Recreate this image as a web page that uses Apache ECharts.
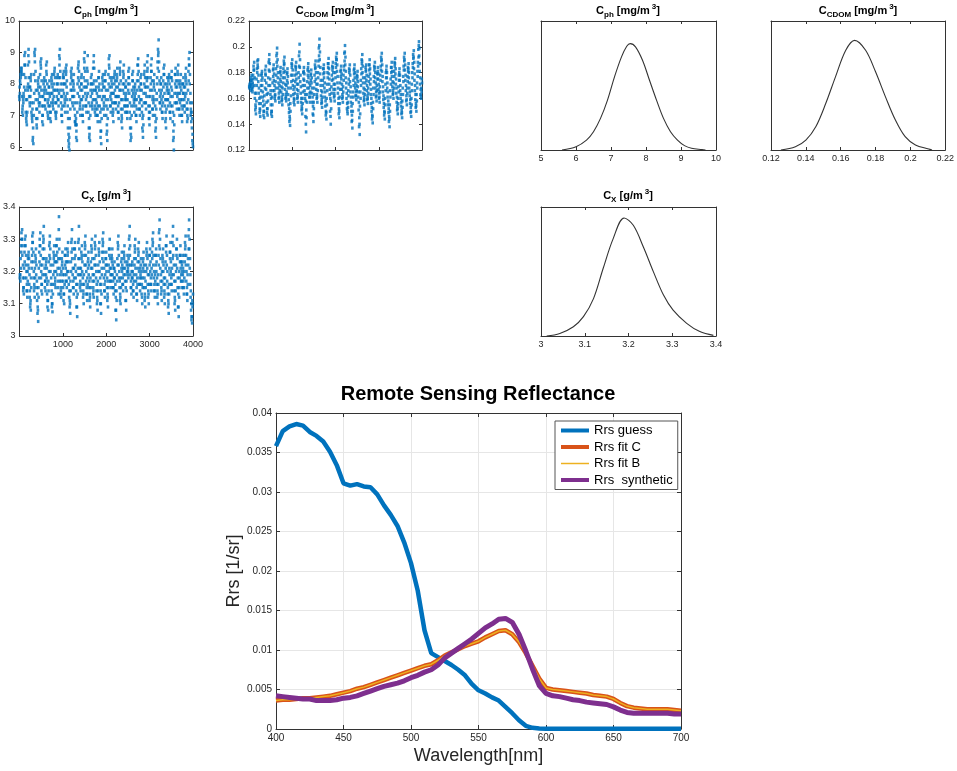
<!DOCTYPE html>
<html><head><meta charset="utf-8">
<script src="https://cdn.jsdelivr.net/npm/echarts@6/dist/echarts.min.js"></script>
<style>html,body{margin:0;padding:0;background:#fff}#c{width:957px;height:771px}</style>
</head><body><div id="c"></div>
<script>
// ---------- DATA ----------
// MCMC chains: chain A at iterations 10,20,...; chain B at 5,15,...
const sampleStep = 10;
const cphChain = [
7.5,7.7,8.0,8.2,8.4,8.5,8.3,7.2,7.0,7.4, 7.6,7.9,8.6,9.0,8.2,7.5,6.8,6.7,7.1,7.8,
8.0,9.1,8.7,7.9,7.3,7.6,8.1,8.3,7.4,6.9, 7.2,6.3,6.1,7.0,7.7,8.9,9.1,8.4,7.8,7.2,
6.6,6.9,7.5,8.0,8.2,7.7,7.1,7.4,7.9,8.6, 8.8,8.1,7.6,7.0,6.7,7.3,7.8,8.2,7.9,7.5,
7.2,7.8,8.4,8.7,8.0,7.4,6.9,7.3,7.7,8.1, 7.6,7.1,6.8,7.4,8.0,8.3,7.9,7.5,7.2,7.6,
8.0,8.5,8.2,7.4,6.9,7.1,7.6,8.0,8.3,7.8, 7.3,7.7,8.6,9.1,8.4,8.0,7.6,7.2,6.8,7.3,
7.8,8.2,8.4,8.0,7.5,7.1,7.6,8.3,8.6,8.1, 7.7,7.3,6.9,6.4,6.1,5.9,6.6,7.2,7.8,8.2,
8.5,8.1,7.6,7.3,7.9,8.3,7.8,7.4,7.0,6.7, 6.9,6.5,6.2,7.1,7.7,8.2,8.7,8.4,7.9,7.4,
7.0,7.5,8.0,8.3,7.8,7.2,6.8,7.3,7.9,8.5, 9.0,8.4,7.9,7.5,7.1,7.6,8.1,8.9,8.0,7.4,
6.9,6.4,6.2,7.0,7.6,8.0,8.3,7.7,7.2,7.5, 8.0,8.9,8.5,7.8,7.3,7.0,7.5,8.1,7.7,7.2,
6.8,7.3,7.9,8.4,8.0,7.6,7.1,6.5,6.1,6.9, 7.5,8.0,8.3,7.9,7.4,7.0,7.6,8.1,8.4,7.8,
7.3,6.7,6.2,6.9,7.5,8.0,8.6,8.9,8.2,7.6, 7.1,7.5,7.9,8.2,7.7,7.2,6.8,7.4,8.0,8.4,
8.1,7.6,7.2,7.6,8.1,8.5,7.9,7.3,6.9,7.4, 7.8,8.3,8.7,8.1,7.5,7.0,6.6,7.2,7.8,8.2,
8.6,8.0,7.5,7.1,7.6,8.1,7.7,7.3,6.9,7.3, 7.8,8.2,8.5,8.0,7.4,6.9,6.4,6.3,7.0,7.6,
8.1,8.4,7.9,7.5,7.1,7.6,8.0,7.7,7.3,6.8, 7.2,7.8,8.3,8.8,8.4,7.9,7.4,7.0,7.5,8.0,
8.3,7.8,7.3,6.9,6.3,6.7,7.4,8.0,8.6,8.2, 7.7,7.2,7.6,8.1,8.4,8.9,8.2,7.6,7.1,6.7,
7.1,7.6,8.0,8.4,8.8,8.1,7.5,7.0,7.4,7.9, 8.3,7.8,7.3,6.8,6.3,6.9,7.5,8.0,8.5,8.9,
9.4,8.7,8.1,7.6,7.2,7.7,8.2,7.8,7.3,6.9, 7.4,7.9,8.3,8.6,8.0,7.5,7.1,6.6,7.2,7.8,
8.2,7.7,7.3,7.8,8.3,8.0,7.4,6.9,7.3,7.9, 8.4,8.1,7.6,7.1,6.5,5.9,6.7,7.4,8.0,8.5,
8.1,7.7,7.2,7.6,8.1,8.6,8.0,7.5,7.0,7.4, 7.9,8.3,7.8,7.3,6.8,7.2,7.7,8.2,7.9,7.5,
7.1,7.6,8.1,8.5,8.0,7.4,7.0,6.9,7.5,8.1, 8.6,9.0,8.3,7.7,7.2,6.8,7.4,6.9,6.4,6.0
];
const cphChainB = [
7.6,7.9,8.1,8.3,8.5,8.4,7.6,7.1,7.3,7.5, 7.7,8.3,8.9,8.6,7.8,7.1,6.9,7.0,7.5,7.9,
8.6,8.9,8.2,7.6,7.4,7.9,8.2,7.8,7.1,7.0, 6.8,6.2,6.6,7.4,8.3,9.0,8.7,8.1,7.5,6.9,
6.7,7.2,7.8,8.1,7.9,7.4,7.3,7.6,8.3,8.7, 8.5,7.8,7.3,6.8,7.0,7.6,8.0,8.1,7.7,7.3,
7.5,8.1,8.6,8.3,7.7,7.1,7.0,7.5,7.9,7.9, 7.3,6.9,7.1,7.7,8.2,8.1,7.7,7.3,7.4,7.8,
8.3,8.4,7.8,7.1,7.0,7.4,7.8,8.2,8.0,7.5, 7.5,8.2,8.9,8.8,8.2,7.8,7.4,7.0,7.0,7.6,
8.0,8.3,8.2,7.7,7.3,7.4,8.0,8.5,8.4,7.9, 7.5,7.1,6.6,6.2,6.0,6.3,6.9,7.5,8.0,8.4,
8.3,7.8,7.4,7.6,8.1,8.0,7.6,7.2,6.8,6.8, 6.7,6.3,6.7,7.4,8.0,8.5,8.6,8.1,7.6,7.2,
7.3,7.8,8.2,8.0,7.5,7.0,7.0,7.6,8.2,8.8, 8.7,8.1,7.7,7.3,7.3,7.9,8.5,8.4,7.7,7.1,
6.6,6.3,6.6,7.3,7.8,8.2,8.0,7.4,7.3,7.8, 8.5,8.7,8.1,7.5,7.1,7.2,7.8,7.9,7.4,7.0,
7.0,7.6,8.2,8.2,7.8,7.3,6.8,6.3,6.5,7.2, 7.8,8.2,8.1,7.6,7.2,7.3,7.9,8.3,8.1,7.5,
7.0,6.4,6.5,7.2,7.8,8.3,8.8,8.5,7.9,7.3, 7.3,7.7,8.1,8.0,7.4,7.0,7.1,7.7,8.2,8.3,
7.8,7.4,7.4,7.9,8.3,8.2,7.6,7.1,7.1,7.6, 8.0,8.5,8.4,7.8,7.2,6.8,6.9,7.5,8.0,8.4,
8.3,7.7,7.3,7.3,7.9,7.9,7.5,7.1,7.1,7.5, 8.0,8.4,8.2,7.7,7.1,6.6,6.2,6.6,7.3,7.8,
8.3,8.1,7.7,7.3,7.4,7.8,7.9,7.5,7.0,7.0, 7.5,8.1,8.6,8.6,8.1,7.6,7.2,7.2,7.8,8.2,
8.0,7.5,7.1,6.6,6.5,7.0,7.7,8.3,8.4,7.9, 7.4,7.4,7.9,8.2,8.7,8.5,7.9,7.3,6.9,6.9,
7.3,7.8,8.2,8.6,8.4,7.8,7.2,7.2,7.6,8.1, 8.0,7.5,7.0,6.5,6.6,7.2,7.7,8.2,8.7,9.1,
9.0,8.4,7.8,7.4,7.4,8.0,8.0,7.5,7.1,7.1, 7.6,8.1,8.5,8.3,7.7,7.3,6.8,6.9,7.5,8.0,
7.9,7.5,7.5,8.1,8.2,7.7,7.1,7.1,7.6,8.2, 8.2,7.8,7.3,6.8,6.2,6.3,7.0,7.7,8.3,8.3,
7.9,7.4,7.4,7.9,8.4,8.3,7.7,7.2,7.2,7.7, 8.1,8.0,7.5,7.0,7.0,7.5,8.0,8.0,7.7,7.3,
7.3,7.9,8.3,8.2,7.7,7.2,6.8,7.2,7.8,8.4, 8.8,8.6,8.0,7.4,7.0,7.1,7.1,6.6,6.2,6.1
];
const cdomChain = [
.168,.170,.172,.166,.174,.178,.171,.165,.169,.175, .182,.188,.176,.164,.155,.148,.158,.170,.180,.186,
.190,.178,.168,.160,.152,.146,.156,.166,.174,.181, .176,.165,.158,.150,.145,.155,.168,.179,.185,.172,
.163,.152,.147,.158,.170,.182,.194,.187,.175,.166, .160,.150,.146,.155,.166,.177,.186,.179,.170,.162,
.158,.168,.178,.188,.199,.190,.180,.172,.164,.157, .166,.175,.184,.178,.169,.161,.155,.163,.172,.180,
.186,.192,.181,.171,.163,.158,.165,.174,.183,.177, .168,.159,.152,.146,.139,.150,.162,.173,.184,.190,
.182,.174,.167,.160,.155,.164,.173,.182,.188,.179, .171,.163,.157,.166,.176,.185,.202,.190,.178,.169,
.160,.154,.148,.156,.165,.175,.184,.179,.170,.163, .158,.134,.145,.157,.168,.178,.187,.181,.172,.164,
.157,.165,.174,.182,.176,.168,.161,.154,.142,.152, .163,.173,.183,.189,.180,.171,.163,.157,.166,.176,
.185,.193,.206,.196,.184,.174,.166,.159,.153,.161, .170,.179,.186,.180,.172,.165,.158,.150,.144,.155,
.166,.176,.184,.191,.183,.175,.167,.160,.140,.152, .164,.174,.182,.188,.180,.171,.164,.158,.167,.176,
.184,.190,.195,.186,.177,.168,.160,.152,.145,.156, .167,.177,.185,.179,.171,.163,.157,.165,.174,.182,
.189,.201,.192,.181,.172,.164,.156,.148,.153,.162, .171,.180,.186,.178,.169,.161,.154,.147,.137,.150,
.161,.170,.179,.186,.180,.172,.165,.159,.166,.175, .181,.173,.165,.157,.145,.132,.148,.160,.170,.179,
.187,.194,.185,.176,.168,.161,.155,.163,.172,.181, .186,.178,.170,.162,.156,.164,.173,.182,.190,.183,
.175,.167,.160,.153,.147,.141,.152,.163,.173,.182, .188,.180,.172,.165,.158,.166,.175,.184,.179,.171,
.164,.157,.165,.174,.182,.189,.195,.186,.177,.169, .162,.156,.150,.144,.155,.166,.176,.185,.180,.172,
.165,.158,.152,.146,.138,.150,.161,.171,.180,.188, .181,.173,.166,.160,.168,.177,.185,.191,.183,.175,
.168,.161,.154,.148,.156,.165,.174,.183,.178,.170, .163,.157,.151,.145,.153,.163,.173,.182,.189,.195,
.186,.178,.170,.162,.155,.164,.173,.181,.187,.180, .172,.165,.159,.153,.146,.155,.166,.176,.184,.191,
.197,.188,.179,.170,.163,.156,.150,.158,.168,.177, .185,.192,.204,.199,.187,.176,.167,.160,.165,.172
];
const cdomChainB = [
.169,.171,.169,.170,.176,.174,.168,.167,.172,.178, .185,.182,.170,.160,.151,.153,.164,.175,.183,.189,
.184,.173,.164,.156,.149,.151,.161,.170,.178,.179, .170,.161,.154,.147,.150,.162,.174,.182,.178,.167,
.157,.149,.152,.164,.176,.188,.190,.181,.170,.163, .155,.148,.150,.161,.172,.182,.183,.174,.166,.160,
.163,.173,.183,.193,.195,.185,.176,.168,.160,.161, .170,.180,.181,.173,.165,.158,.159,.168,.176,.183,
.189,.187,.176,.167,.160,.161,.170,.179,.180,.172, .163,.155,.149,.142,.144,.156,.168,.178,.187,.186,
.178,.170,.163,.157,.159,.169,.178,.185,.184,.175, .167,.160,.161,.171,.180,.193,.196,.184,.173,.164,
.157,.151,.152,.160,.170,.180,.181,.174,.166,.160, .146,.140,.151,.163,.173,.182,.184,.176,.168,.161,
.161,.170,.178,.179,.172,.164,.157,.148,.147,.157, .168,.178,.186,.184,.175,.167,.160,.161,.171,.180,
.189,.199,.201,.190,.179,.170,.162,.156,.157,.165, .174,.183,.183,.176,.168,.161,.154,.147,.149,.160,
.171,.180,.187,.187,.179,.171,.163,.150,.146,.158, .169,.178,.185,.184,.175,.167,.161,.162,.171,.180,
.187,.192,.190,.181,.172,.164,.156,.148,.150,.161, .172,.181,.182,.175,.167,.160,.161,.169,.178,.185,
.195,.196,.186,.176,.168,.160,.152,.150,.157,.166, .175,.183,.182,.173,.165,.157,.150,.142,.143,.156,
.165,.174,.182,.183,.176,.168,.162,.162,.170,.178, .177,.169,.161,.151,.138,.140,.154,.165,.174,.183,
.190,.189,.180,.172,.164,.158,.159,.167,.176,.184, .182,.174,.166,.159,.160,.168,.177,.186,.186,.179,
.171,.163,.156,.150,.144,.146,.157,.168,.177,.185, .184,.176,.168,.161,.162,.170,.179,.181,.175,.167,
.160,.161,.169,.178,.185,.192,.190,.181,.173,.165, .159,.153,.147,.149,.160,.171,.180,.182,.176,.168,
.161,.155,.149,.142,.144,.155,.166,.175,.184,.184, .177,.169,.163,.164,.172,.181,.188,.187,.179,.171,
.164,.157,.151,.152,.160,.169,.178,.180,.174,.166, .160,.154,.148,.149,.158,.168,.177,.185,.192,.190,
.182,.174,.166,.158,.159,.168,.177,.184,.183,.176, .168,.162,.156,.149,.150,.160,.171,.180,.187,.194,
.192,.183,.174,.166,.159,.153,.154,.163,.172,.181, .188,.198,.201,.193,.181,.171,.163,.162,.168,.175
];
const cxChain = [
3.19,3.17,3.21,3.26,3.30,3.33,3.28,3.22,3.15,3.13, 3.18,3.23,3.28,3.31,3.25,3.20,3.16,3.12,3.17,3.22,
3.26,3.24,3.19,3.14,3.10,3.08,3.15,3.21,3.25,3.29, 3.32,3.26,3.20,3.16,3.12,3.18,3.23,3.27,3.22,3.17,
3.13,3.09,3.045,3.12,3.18,3.23,3.28,3.32,3.25,3.20, 3.16,3.13,3.19,3.24,3.29,3.34,3.27,3.21,3.17,3.14,
3.19,3.24,3.21,3.16,3.11,3.08,3.14,3.20,3.25,3.31, 3.27,3.22,3.18,3.14,3.10,3.075,3.13,3.19,3.24,3.28,
3.23,3.18,3.15,3.20,3.25,3.30,3.26,3.21,3.17,3.13, 3.37,3.30,3.24,3.19,3.15,3.12,3.17,3.22,3.26,3.21,
3.17,3.13,3.10,3.16,3.22,3.27,3.23,3.19,3.15,3.20, 3.25,3.29,3.23,3.18,3.14,3.11,3.07,3.14,3.20,3.26,
3.33,3.27,3.21,3.17,3.13,3.18,3.24,3.29,3.25,3.20, 3.16,3.12,3.06,3.13,3.19,3.24,3.34,3.27,3.21,3.17,
3.14,3.19,3.24,3.28,3.23,3.18,3.14,3.10,3.16,3.22, 3.27,3.31,3.25,3.20,3.15,3.11,3.16,3.21,3.26,3.22,
3.17,3.13,3.09,3.15,3.21,3.26,3.30,3.24,3.19,3.15, 3.12,3.17,3.22,3.27,3.31,3.25,3.20,3.16,3.12,3.08,
3.14,3.20,3.25,3.29,3.23,3.18,3.14,3.07,3.13,3.19, 3.24,3.28,3.32,3.26,3.21,3.16,3.12,3.17,3.22,3.26,
3.22,3.18,3.13,3.09,3.15,3.20,3.25,3.30,3.24,3.19, 3.15,3.19,3.23,3.27,3.22,3.17,3.13,3.18,3.23,3.20,
3.16,3.12,3.05,3.11,3.17,3.22,3.27,3.31,3.25,3.20, 3.17,3.13,3.10,3.15,3.21,3.26,3.22,3.18,3.14,3.19,
3.24,3.28,3.23,3.19,3.15,3.08,3.14,3.20,3.25,3.21, 3.18,3.22,3.27,3.34,3.28,3.22,3.17,3.13,3.18,3.23,
3.20,3.16,3.12,3.17,3.22,3.26,3.30,3.24,3.19,3.15, 3.11,3.16,3.21,3.25,3.29,3.23,3.18,3.14,3.19,3.24,
3.20,3.16,3.10,3.15,3.21,3.26,3.22,3.18,3.13,3.09, 3.15,3.20,3.25,3.29,3.24,3.19,3.14,3.10,3.16,3.22,
3.27,3.23,3.18,3.14,3.19,3.24,3.28,3.32,3.25,3.20, 3.16,3.12,3.17,3.22,3.27,3.23,3.18,3.14,3.10,3.16,
3.22,3.28,3.36,3.30,3.24,3.19,3.15,3.11,3.17,3.23, 3.27,3.22,3.18,3.14,3.10,3.16,3.21,3.26,3.31,3.25,
3.20,3.15,3.11,3.07,3.13,3.19,3.24,3.29,3.23,3.18, 3.14,3.19,3.24,3.34,3.28,3.22,3.17,3.12,3.08,3.14,
3.20,3.25,3.30,3.24,3.18,3.13,3.06,3.12,3.18,3.23, 3.28,3.23,3.19,3.15,3.20,3.25,3.21,3.17,3.13,3.18,
3.23,3.27,3.31,3.25,3.20,3.15,3.11,3.16,3.22,3.27, 3.36,3.30,3.24,3.19,3.14,3.10,3.06,3.04,3.09,3.13
];
const cxChainB = [
3.18,3.19,3.24,3.28,3.32,3.30,3.25,3.18,3.14,3.15, 3.21,3.26,3.30,3.28,3.22,3.18,3.14,3.14,3.20,3.24,
3.25,3.21,3.16,3.12,3.09,3.11,3.18,3.23,3.27,3.31, 3.29,3.23,3.18,3.14,3.15,3.21,3.25,3.24,3.19,3.15,
3.11,3.07,3.08,3.15,3.21,3.26,3.30,3.28,3.22,3.18, 3.14,3.16,3.22,3.27,3.31,3.30,3.24,3.19,3.15,3.17,
3.22,3.23,3.18,3.13,3.09,3.11,3.17,3.23,3.28,3.29, 3.24,3.20,3.16,3.12,3.09,3.10,3.16,3.22,3.26,3.25,
3.20,3.16,3.17,3.23,3.28,3.28,3.23,3.19,3.15,3.24, 3.33,3.27,3.21,3.17,3.13,3.14,3.20,3.24,3.23,3.19,
3.15,3.11,3.13,3.19,3.25,3.25,3.21,3.17,3.17,3.23, 3.27,3.26,3.20,3.16,3.12,3.09,3.10,3.17,3.23,3.29,
3.30,3.24,3.19,3.15,3.15,3.21,3.27,3.27,3.22,3.18, 3.14,3.09,3.09,3.16,3.21,3.29,3.30,3.24,3.19,3.15,
3.16,3.21,3.26,3.25,3.20,3.16,3.12,3.13,3.19,3.25, 3.29,3.28,3.22,3.17,3.13,3.13,3.18,3.23,3.24,3.19,
3.15,3.11,3.12,3.18,3.23,3.28,3.27,3.21,3.17,3.13, 3.14,3.19,3.24,3.29,3.28,3.22,3.18,3.14,3.10,3.11,
3.17,3.22,3.27,3.26,3.20,3.16,3.10,3.10,3.16,3.21, 3.26,3.30,3.29,3.23,3.18,3.14,3.14,3.19,3.24,3.24,
3.20,3.15,3.11,3.12,3.17,3.22,3.27,3.27,3.21,3.17, 3.17,3.21,3.25,3.24,3.19,3.15,3.15,3.21,3.21,3.18,
3.14,3.08,3.08,3.14,3.19,3.24,3.29,3.28,3.22,3.18, 3.15,3.11,3.12,3.18,3.23,3.24,3.20,3.16,3.16,3.21,
3.26,3.25,3.21,3.17,3.11,3.11,3.17,3.22,3.23,3.19, 3.20,3.24,3.30,3.31,3.25,3.19,3.15,3.15,3.20,3.22,
3.18,3.14,3.14,3.19,3.24,3.28,3.27,3.21,3.17,3.13, 3.13,3.18,3.23,3.27,3.26,3.20,3.16,3.16,3.21,3.22,
3.18,3.13,3.12,3.18,3.23,3.24,3.20,3.15,3.11,3.12, 3.17,3.22,3.27,3.26,3.21,3.16,3.12,3.13,3.19,3.25,
3.25,3.20,3.16,3.16,3.21,3.26,3.30,3.29,3.22,3.18, 3.14,3.14,3.19,3.25,3.25,3.20,3.16,3.12,3.13,3.19,
3.25,3.32,3.33,3.27,3.21,3.17,3.13,3.14,3.20,3.25, 3.24,3.20,3.16,3.12,3.13,3.18,3.23,3.28,3.28,3.22,
3.17,3.13,3.09,3.10,3.16,3.21,3.26,3.26,3.20,3.16, 3.16,3.21,3.29,3.31,3.25,3.19,3.14,3.10,3.11,3.17,
3.22,3.27,3.27,3.21,3.15,3.09,3.09,3.15,3.20,3.25, 3.25,3.21,3.17,3.17,3.22,3.23,3.19,3.15,3.15,3.20,
3.25,3.29,3.28,3.22,3.17,3.13,3.13,3.19,3.24,3.31, 3.33,3.27,3.21,3.16,3.12,3.08,3.05,3.06,3.11,3.10
];

// Posterior density curves (relative height)
const cphDensX = [5.6,6.0,6.3,6.5,6.7,6.9,7.1,7.3,7.45,7.55,7.7,7.9,8.1,8.3,8.5,8.7,8.9,9.1,9.3,9.6,9.7];
const cphDensY = [0,0.026,0.077,0.142,0.245,0.387,0.567,0.722,0.804,0.825,0.80,0.696,0.541,0.387,0.245,0.142,0.077,0.034,0.013,0.003,0];
const cdomDensX = [0.1257,0.134,0.140,0.1457,0.1514,0.157,0.1629,0.168,0.1743,0.180,0.1857,0.1914,0.197,0.2029,0.2105,0.2124];
const cdomDensY = [0,0.026,0.077,0.18,0.36,0.567,0.773,0.85,0.773,0.606,0.412,0.232,0.103,0.039,0.008,0];
const cxDensX = [3.013,3.043,3.074,3.097,3.12,3.142,3.165,3.19,3.211,3.234,3.257,3.28,3.302,3.333,3.363,3.394];
const cxDensY = [0,0.02,0.072,0.15,0.29,0.523,0.755,0.915,0.858,0.69,0.497,0.317,0.2,0.098,0.034,0.005];

// Remote sensing reflectance spectra
const wavelength = [400,405,410,415,420,425,430,435,440,445,450,455,460,465,470,475,480,485,490,495,
500,505,510,515,520,525,530,535,540,545,550,555,560,565,570,575,580,585,590,595,
600,605,610,615,620,625,630,635,640,645,650,655,660,665,670,675,680,685,690,695,700];
const rrsGuess = [.0358,.0377,.0383,.0386,.0384,.0376,.0371,.0364,.0351,.0334,.0311,.0308,.0310,.0307,.0306,.0297,.0283,.0271,.0257,.0236,
.0210,.0175,.0125,.0096,.0091,.0086,.0081,.0075,.0068,.0057,.0049,.0045,.0040,.0036,.0028,.0020,.0011,.0004,.00015,.00006,
.00003,.00003,.00003,.00003,.00003,.00003,.00003,.00003,.00003,.00003,.00003,.00003,.00003,.00003,.00003,.00003,.00003,.00003,.00003,.00003,.00003];
const rrsFitC = [.0036,.0037,.0037,.0038,.0039,.0039,.0040,.0041,.0042,.0044,.0046,.0048,.0051,.0053,.0056,.0059,.0062,.0065,.0068,.0071,
.0074,.0077,.0080,.0082,.0087,.0093,.0097,.0101,.0105,.0108,.0111,.0116,.0120,.0124,.0125,.0120,.0110,.0096,.0080,.0064,
.0052,.0050,.0049,.0048,.0047,.0046,.0045,.0043,.0042,.0041,.0038,.0033,.0029,.0027,.0026,.0025,.0025,.0025,.0025,.0024,.0023];
const rrsFitB = [.0036,.0037,.0037,.0038,.0039,.0039,.0040,.0041,.0042,.0044,.0046,.0048,.0051,.0053,.0056,.0059,.0062,.0065,.0068,.0071,
.0074,.0077,.0080,.0082,.0087,.0093,.0097,.0101,.0105,.0108,.0111,.0116,.0120,.0124,.0125,.0120,.0110,.0096,.0080,.0064,
.0052,.0050,.0049,.0048,.0047,.0046,.0045,.0043,.0042,.0041,.0038,.0033,.0029,.0027,.0026,.0025,.0025,.0025,.0025,.0024,.0023];
const rrsSynthetic = [.0042,.0041,.0040,.0039,.0038,.0038,.0036,.0036,.0036,.0037,.0039,.0040,.0042,.0045,.0048,.0051,.0054,.0056,.0058,.0061,
.0065,.0068,.0072,.0075,.0081,.0090,.0096,.0102,.0108,.0114,.0121,.0128,.0133,.0139,.0140,.0135,.0120,.0099,.0076,.0055,
.0045,.0042,.0041,.0039,.0037,.0036,.0034,.0033,.0032,.0031,.0028,.0024,.0021,.0020,.0020,.0020,.0020,.0020,.0020,.0019,.0019];

const panelTitles = ['C{sub|ph} [mg/m{sup|3}]','C{sub|CDOM} [mg/m{sup|3}]','C{sub|X} [g/m{sup|3}]'];
const seriesNames = ['Rrs guess','Rrs fit C','Rrs fit B','Rrs  synthetic'];

// ---------- CHART ----------
const FONT = '"Liberation Sans", Arial, Helvetica, sans-serif';
const AXC = '#262626';
const grids = [
  {left:19,  top:21,  width:174, height:129},
  {left:249, top:21,  width:173, height:129},
  {left:541, top:21,  width:175, height:129},
  {left:771, top:21,  width:175, height:129},
  {left:19,  top:207, width:174, height:129},
  {left:541, top:207, width:175, height:129},
  {left:276, top:413, width:405, height:316}
];
const xAxes = [], yAxes = [];
function axisPair(list, gi, isX, cfg) {
  const positions = isX ? ['bottom','top'] : ['left','right'];
  positions.forEach((pos, k) => {
    const a = {
      gridIndex: gi, type: 'value', position: pos, min: cfg.min, max: cfg.max,
      axisLine: {show: true, onZero: false, lineStyle: {color: '#333', width: 1}},
      axisTick: {show: cfg.ticks !== false, inside: true, length: cfg.tickLen || 3, lineStyle: {color: '#333', width: 1}},
      axisLabel: {show: k === 0 && !!cfg.labels, color: AXC, fontSize: cfg.fontSize || 9, fontFamily: FONT, margin: cfg.margin || 4,
        formatter: v => String(+v.toFixed(6))},
      splitLine: {show: k === 0 && !!cfg.grid, lineStyle: {color: '#e6e6e6', width: 1}}
    };
    if (cfg.interval !== undefined) a.interval = cfg.interval;
    if (cfg.custom) { a.axisTick.customValues = cfg.custom; a.axisLabel.customValues = cfg.custom; }
    if (k === 0 && cfg.name) Object.assign(a, cfg.name);
    list.push(a);
  });
}
const iterTicks = [1000,2000,3000,4000];
axisPair(xAxes, 0, true, {min:0, max:4000, custom:iterTicks, labels:false});
axisPair(yAxes, 0, false, {min:5.9, max:10, custom:[6,7,8,9,10], labels:true});
axisPair(xAxes, 1, true, {min:0, max:4000, custom:iterTicks, labels:false});
axisPair(yAxes, 1, false, {min:0.12, max:0.22, interval:0.02, labels:true});
axisPair(xAxes, 2, true, {min:5, max:10, interval:1, labels:true});
axisPair(yAxes, 2, false, {min:0, max:1, ticks:false, labels:false});
axisPair(xAxes, 3, true, {min:0.12, max:0.22, interval:0.02, labels:true});
axisPair(yAxes, 3, false, {min:0, max:1, ticks:false, labels:false});
axisPair(xAxes, 4, true, {min:0, max:4000, custom:iterTicks, labels:true});
axisPair(yAxes, 4, false, {min:3, max:3.4, interval:0.1, labels:true});
axisPair(xAxes, 5, true, {min:3, max:3.4, interval:0.1, labels:true});
axisPair(yAxes, 5, false, {min:0, max:1, ticks:false, labels:false});
axisPair(xAxes, 6, true, {min:400, max:700, interval:50, labels:true, grid:true, fontSize:10, tickLen:4,
  name:{name:'Wavelength[nm]', nameLocation:'middle', nameGap:18, nameTextStyle:{fontSize:18, color:AXC, fontFamily:FONT}}});
axisPair(yAxes, 6, false, {min:0, max:0.04, interval:0.005, labels:true, grid:true, fontSize:10, tickLen:4,
  name:{name:'Rrs [1/sr]', nameLocation:'middle', nameGap:33, nameTextStyle:{fontSize:18, color:AXC, fontFamily:FONT}}});

function chainPoints(arr, offset) { return arr.map((v, i) => [i * sampleStep + offset, v]); }
function zipXY(xs, ys) { return xs.map((x, i) => [x, ys[i]]); }
function traceSeries(gi, arrA, arrB) {
  return {type:'scatter', xAxisIndex:2*gi, yAxisIndex:2*gi,
    data:chainPoints(arrB, sampleStep/2).concat(chainPoints(arrA, sampleStep)), symbol:'rect', symbolSize:[2.6, 3.2],
    itemStyle:{color:'#0072BD'}, silent:true};
}
function densSeries(gi, xs, ys) {
  return {type:'line', xAxisIndex:2*gi, yAxisIndex:2*gi, data:zipXY(xs, ys), smooth:0.35, showSymbol:false, symbol:'none',
    lineStyle:{color:'#333', width:1.1}, silent:true};
}
function rrsSeries(name, ys, color, width) {
  return {type:'line', name, xAxisIndex:12, yAxisIndex:12, data:zipXY(wavelength, ys), symbol:'none', showSymbol:false,
    lineStyle:{color, width}, itemStyle:{color}, silent:true};
}

const titleStyle = {
  fontSize: 11, fontWeight: 'bold', color: '#000', fontFamily: FONT, lineHeight: 16,
  rich: {
    sub: {fontSize: 8, fontWeight: 'bold', fontFamily: FONT, color:'#000', lineHeight: 8, verticalAlign: 'bottom'},
    sup: {fontSize: 8, fontWeight: 'bold', fontFamily: FONT, color:'#000', lineHeight: 8, verticalAlign: 'top', padding:[0,0,0,2]}
  }
};
function panelTitle(text, cx, top) {
  return {text, left: cx, top, textAlign: 'center', padding: 0, textStyle: titleStyle};
}
const legendWidths = [4, 4, 1.5, 4];

const option = {
  animation: false,
  backgroundColor: '#fff',
  grid: grids,
  xAxis: xAxes,
  yAxis: yAxes,
  title: [
    panelTitle(panelTitles[0], 106, 3),
    panelTitle(panelTitles[1], 335, 3),
    panelTitle(panelTitles[0], 628, 3),
    panelTitle(panelTitles[1], 858, 3),
    panelTitle(panelTitles[2], 106, 188),
    panelTitle(panelTitles[2], 628, 188),
    {text: 'Remote Sensing Reflectance', left: 478, top: 384, textAlign: 'center', padding: 0,
      textStyle: {fontSize: 20, fontWeight: 'bold', color: '#000', fontFamily: FONT}}
  ],
  legend: {
    orient: 'vertical', left: 555, top: 421, itemWidth: 28, itemHeight: 12, itemGap: 3.5,
    padding: [3, 5, 3, 4], backgroundColor: '#fff', borderColor: '#555', borderWidth: 1,
    itemStyle: {opacity: 0, borderWidth: 0},
    textStyle: {fontSize: 13, color: '#000', fontFamily: FONT},
    data: seriesNames.map((n, i) => ({name: n, lineStyle: {width: legendWidths[i], opacity: 1}})),
    selectedMode: false
  },
  series: [
    traceSeries(0, cphChain, cphChainB),
    traceSeries(1, cdomChain, cdomChainB),
    traceSeries(4, cxChain, cxChainB),
    densSeries(2, cphDensX, cphDensY),
    densSeries(3, cdomDensX, cdomDensY),
    densSeries(5, cxDensX, cxDensY),
    rrsSeries(seriesNames[0], rrsGuess, '#0072BD', 4.5),
    rrsSeries(seriesNames[1], rrsFitC, '#D95319', 4.5),
    rrsSeries(seriesNames[2], rrsFitB, '#EDB120', 1.5),
    rrsSeries(seriesNames[3], rrsSynthetic, '#7E2F8E', 5)
  ]
};
const chart = echarts.init(document.getElementById('c'));
chart.setOption(option);
</script></body></html>
